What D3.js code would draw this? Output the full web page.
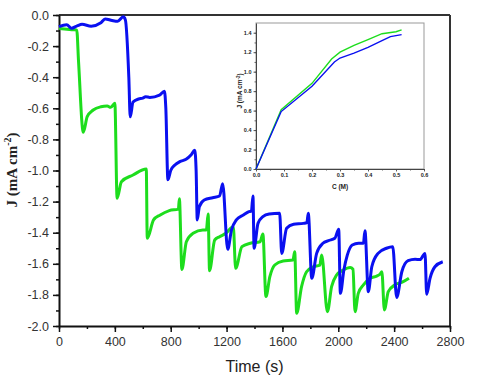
<!DOCTYPE html>
<html><head><meta charset="utf-8">
<script src="https://cdn.jsdelivr.net/npm/d3@7"></script>
<style>body{margin:0;background:#fff}svg{display:block}</style>
</head><body>
<svg id="c" width="480" height="381"></svg>
<script>
// ---- data ----
const xTicks = [0,400,800,1200,1600,2000,2400,2800];
const yTicks = [0,-0.2,-0.4,-0.6,-0.8,-1.0,-1.2,-1.4,-1.6,-1.8,-2.0];
const blueT = [0,55,90,130,165,230,300,330,380,420,460,475,500,510,530,570,600,620,650,720,755,765,780,800,830,865,910,945,972,982,990,1005,1040,1100,1150,1172,1208,1235,1270,1320,1360,1378,1389,1397,1425,1460,1505,1580,1595,1630,1680,1750,1775,1785,1810,1845,1890,1930,1975,2003,2015,2040,2065,2100,2145,2180,2191,2215,2240,2285,2345,2390,2418,2455,2500,2550,2585,2621,2633,2657,2692,2748];
const blueJ = [-0.075,-0.062,-0.085,-0.07,-0.06,-0.072,-0.05,-0.025,-0.035,-0.04,-0.012,-0.03,-0.4,-0.655,-0.56,-0.54,-0.535,-0.525,-0.53,-0.515,-0.49,-0.6,-1.06,-1.0,-0.965,-0.943,-0.928,-0.9,-0.87,-1.0,-1.318,-1.233,-1.19,-1.175,-1.164,-1.085,-1.507,-1.383,-1.318,-1.286,-1.265,-1.26,-1.164,-1.5,-1.34,-1.297,-1.28,-1.275,-1.533,-1.372,-1.346,-1.34,-1.335,-1.275,-1.693,-1.533,-1.468,-1.451,-1.436,-1.378,-1.79,-1.64,-1.543,-1.479,-1.468,-1.468,-1.387,-1.779,-1.619,-1.533,-1.5,-1.49,-1.816,-1.651,-1.58,-1.571,-1.573,-1.533,-1.796,-1.693,-1.619,-1.587];
const greenT = [0,40,90,127,140,174,202,245,300,345,370,400,416,447,530,625,632,677,725,790,855,862,880,912,960,1030,1055,1068,1078,1115,1150,1195,1248,1265,1310,1370,1440,1460,1482,1510,1545,1605,1675,1688,1702,1737,1773,1820,1868,1881,1922,1952,1988,2035,2085,2105,2120,2143,2180,2228,2275,2300,2312,2330,2358,2405,2465,2506];
const greenJ = [-0.086,-0.09,-0.095,-0.096,-0.3,-0.754,-0.654,-0.611,-0.59,-0.585,-0.594,-0.568,-1.179,-1.072,-1.029,-0.99,-1.436,-1.318,-1.286,-1.258,-1.248,-1.182,-1.636,-1.458,-1.404,-1.383,-1.383,-1.28,-1.644,-1.447,-1.426,-1.404,-1.361,-1.629,-1.49,-1.468,-1.458,-1.408,-1.811,-1.683,-1.608,-1.582,-1.576,-1.522,-1.918,-1.747,-1.651,-1.619,-1.608,-1.543,-1.908,-1.747,-1.672,-1.64,-1.623,-1.635,-1.908,-1.79,-1.736,-1.693,-1.679,-1.666,-1.651,-1.897,-1.779,-1.736,-1.715,-1.693];
// inset
const insetXTicks = [0,0.1,0.2,0.3,0.4,0.5,0.6];
const insetYTicks = [0,0.2,0.4,0.6,0.8,1.0,1.2,1.4];
const insetBlueC = [0,0.09,0.2,0.28,0.3,0.35,0.4,0.45,0.48,0.52];
const insetBlueJ = [0,0.59,0.85,1.1,1.14,1.19,1.25,1.32,1.36,1.38];
const insetGreenC = [0,0.09,0.2,0.27,0.3,0.35,0.4,0.45,0.5,0.52];
const insetGreenJ = [0,0.61,0.88,1.13,1.2,1.27,1.33,1.39,1.41,1.43];

const BLUE = "#0a10f0", GREEN = "#1ddd1d";
const svg = d3.select("#c");
const x = d3.scaleLinear([0,2800],[59,450]);
const y = d3.scaleLinear([-2,0],[326,15]);

// frame top/right
svg.append("line").attr("x1",59).attr("x2",450).attr("y1",15).attr("y2",15).attr("stroke","#333").attr("stroke-width",2);
svg.append("line").attr("x1",450).attr("x2",450).attr("y1",15).attr("y2",326).attr("stroke","#333").attr("stroke-width",2);

const fmt = d => d.toFixed(1);
function styleAxis(g){
  g.selectAll(".domain").attr("stroke","#111").attr("stroke-width",2);
  g.selectAll(".tick line").attr("stroke","#111").attr("stroke-width",1.5);
  g.selectAll("text").attr("font-family","Liberation Sans, Arial, sans-serif").attr("font-size",12.5).attr("fill","#333");
}
// minor ticks
svg.append("g").attr("transform","translate(59,0)")
  .call(d3.axisLeft(y).tickValues(d3.range(0,21).map(i=>-i/10)).tickSize(3).tickFormat("").tickSizeOuter(0))
  .call(styleAxis).select(".domain").remove();
svg.append("g").attr("transform","translate(0,326)")
  .call(d3.axisBottom(x).tickValues(d3.range(0,15).map(i=>i*200)).tickSize(3).tickFormat("").tickSizeOuter(0))
  .call(styleAxis).select(".domain").remove();
svg.append("g").attr("transform","translate(59,0)")
  .call(d3.axisLeft(y).tickValues(yTicks).tickSize(6).tickPadding(4).tickFormat(fmt).tickSizeOuter(0))
  .call(styleAxis);
svg.append("g").attr("transform","translate(0,326)")
  .call(d3.axisBottom(x).tickValues(xTicks).tickSize(6).tickPadding(5).tickFormat(d3.format("d")).tickSizeOuter(0))
  .call(styleAxis);

// labels
svg.append("text").attr("x",254.5).attr("y",372).attr("text-anchor","middle")
  .attr("font-family","Liberation Sans, Arial, sans-serif").attr("font-size",16).attr("fill","#222").text("Time (s)");
const yl = svg.append("text").attr("transform","translate(17,170) rotate(-90)").attr("text-anchor","middle")
  .attr("font-family","Liberation Serif, Times New Roman, serif").attr("font-weight","bold").attr("font-size",15).attr("fill","#222");
yl.append("tspan").text("J (mA cm");
yl.append("tspan").attr("font-size",10).attr("dy",-6).text("-2");
yl.append("tspan").attr("dy",6).text(")");

// lines
const line = d3.line().x(d=>x(d[0])).y(d=>y(d[1])).curve(d3.curveMonotoneX);
svg.append("path").datum(greenT.map((t,i)=>[t,greenJ[i]])).attr("d",line)
  .attr("fill","none").attr("stroke",GREEN).attr("stroke-width",3).attr("stroke-linejoin","round");
svg.append("path").datum(blueT.map((t,i)=>[t,blueJ[i]])).attr("d",line)
  .attr("fill","none").attr("stroke",BLUE).attr("stroke-width",3).attr("stroke-linejoin","round");

// ---- inset ----
const ix = d3.scaleLinear([0,0.6],[256,424]);
const iy = d3.scaleLinear([0,1.5],[169,23]);
svg.append("rect").attr("x",256).attr("y",23).attr("width",168).attr("height",146).attr("fill","#fff")
  .attr("stroke","#999").attr("stroke-width",1);
function styleInset(g){
  g.selectAll(".domain").attr("stroke","#444").attr("stroke-width",1);
  g.selectAll(".tick line").attr("stroke","#444").attr("stroke-width",0.8);
  g.selectAll("text").attr("font-family","Liberation Sans, Arial, sans-serif").attr("font-size",5.5).attr("font-weight","bold").attr("fill","#222");
}
svg.append("g").attr("transform","translate(256,0)")
  .call(d3.axisLeft(iy).tickValues(d3.range(0,15).map(i=>i/10)).tickSize(1.5).tickFormat("").tickSizeOuter(0))
  .call(styleInset).select(".domain").remove();
svg.append("g").attr("transform","translate(0,169)")
  .call(d3.axisBottom(ix).tickValues(d3.range(0,13).map(i=>i/20)).tickSize(1.5).tickFormat("").tickSizeOuter(0))
  .call(styleInset).select(".domain").remove();
svg.append("g").attr("transform","translate(256,0)")
  .call(d3.axisLeft(iy).tickValues(insetYTicks).tickSize(2.5).tickPadding(2).tickFormat(fmt).tickSizeOuter(0))
  .call(styleInset);
svg.append("g").attr("transform","translate(0,169)")
  .call(d3.axisBottom(ix).tickValues(insetXTicks).tickSize(2.5).tickPadding(2).tickFormat(fmt).tickSizeOuter(0))
  .call(styleInset);
svg.append("text").attr("x",340).attr("y",189).attr("text-anchor","middle")
  .attr("font-family","Liberation Sans, Arial, sans-serif").attr("font-weight","bold").attr("font-size",6.5).attr("fill","#222").text("C (M)");
const iyl = svg.append("text").attr("transform","translate(242,91) rotate(-90)").attr("text-anchor","middle")
  .attr("font-family","Liberation Sans, Arial, sans-serif").attr("font-weight","bold").attr("font-size",6.5).attr("fill","#222");
iyl.append("tspan").text("J (mA cm");
iyl.append("tspan").attr("font-size",4.5).attr("dy",-2.5).text("-2");
iyl.append("tspan").attr("dy",2.5).text(")");

const iline = d3.line().x(d=>ix(d[0])).y(d=>iy(d[1]));
svg.append("path").datum(insetGreenC.map((c,i)=>[c,insetGreenJ[i]])).attr("d",iline)
  .attr("fill","none").attr("stroke",GREEN).attr("stroke-width",1.4);
svg.append("path").datum(insetBlueC.map((c,i)=>[c,insetBlueJ[i]])).attr("d",iline)
  .attr("fill","none").attr("stroke",BLUE).attr("stroke-width",1.4);
</script>
</body></html>
